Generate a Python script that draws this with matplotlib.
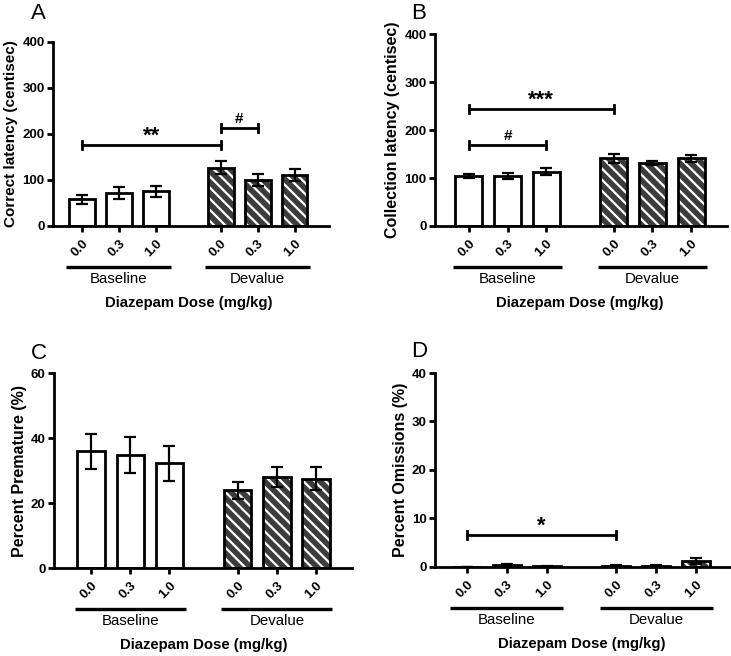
import numpy as np
import matplotlib
matplotlib.use("Agg")
import matplotlib.pyplot as plt
from matplotlib.transforms import ScaledTranslation

plt.rcParams['font.family'] = ['Liberation Sans', 'DejaVu Sans']
plt.rcParams['hatch.linewidth'] = 1.6

# data
doses = ["0.0", "0.3", "1.0", "0.0", "0.3", "1.0"]
groups = ["Baseline", "Devalue"]

correct_lat = [58, 71, 75, 127, 100, 111]
correct_err = [10, 13, 13, 14, 13, 13]
collect_lat = [104, 104, 113, 141, 131, 141]
collect_err = [4, 7, 7, 9, 4, 8]
premature = [35.9, 34.7, 32.3, 23.9, 28.1, 27.5]
premature_err = [5.3, 5.6, 5.4, 2.6, 3.1, 3.6]
omissions = [0.0, 0.4, 0.15, 0.3, 0.2, 1.25]
omissions_err = [0.0, 0.3, 0.1, 0.2, 0.15, 0.6]

pos = np.array([0, 1, 2, 3.75, 4.75, 5.75])

fig = plt.figure(figsize=(7.31, 6.56), dpi=100)

panels = [
    # letter, rect, values, errors, ylabel, yticks, xlim, label pos, ylabel size
    ("A", [0.0725, 0.6555, 0.3775, 0.2805], correct_lat, correct_err,
     "Correct latency (centisec)", [0, 100, 200, 300, 400], (-0.78, 6.68), (0.042, 0.995), 11),
    ("B", [0.595, 0.6555, 0.3995, 0.2925], collect_lat, collect_err,
     "Collection latency (centisec)", [0, 100, 200, 300, 400], (-0.88, 6.68), (0.562, 0.995), 11.5),
    ("C", [0.0739, 0.134, 0.4076, 0.2974], premature, premature_err,
     "Percent Premature (%)", [0, 20, 40, 60], (-0.95, 6.67), (0.042, 0.477), 11.5),
    ("D", [0.595, 0.1357, 0.4036, 0.2957], omissions, omissions_err,
     "Percent Omissions (%)", [0, 10, 20, 30, 40], (-0.80, 6.60), (0.562, 0.480), 11.5),
]

# significance brackets: (panel, bar i, bar j, y value, text)
brackets = [
    ("A", 0, 3, 176, "**"),
    ("A", 3, 4, 213, "#"),
    ("B", 0, 3, 244, "***"),
    ("B", 0, 2, 169, "#"),
    ("D", 0, 3, 6.6, "*"),
]

for letter, rect, vals, errs, ylab, yt, xl, lp, ylsize in panels:
    ax = fig.add_axes(rect)
    w = 0.7
    # baseline bars: white
    ax.bar(pos[:3], vals[:3], width=w, color="white", edgecolor="black", linewidth=2, zorder=2)
    # devalue bars: dark grey with white diagonal hatch
    ax.bar(pos[3:], vals[3:], width=w, color="#3c3c3c", edgecolor="white", hatch="\\\\\\",
           linewidth=0, zorder=2)
    ax.bar(pos[3:], vals[3:], width=w, color="none", edgecolor="black", linewidth=2, zorder=3)
    ax.errorbar(pos, vals, yerr=errs, fmt="none", ecolor="black", elinewidth=1.6,
                capsize=4.5, capthick=1.6, zorder=4)

    ax.set_xlim(*xl)
    ax.set_ylim(yt[0], yt[-1])
    ax.set_yticks(yt)
    ax.set_xticks(pos)
    ax.set_xticklabels(doses, rotation=45, ha="right", va="top", rotation_mode="anchor",
                       fontweight="bold", fontsize=9.5)
    for t in ax.get_yticklabels():
        t.set_fontweight("bold")
        t.set_fontsize(9.5)
    ax.tick_params(axis="both", direction="out", length=4, width=2, pad=2)
    ax.tick_params(axis="x", pad=4)
    for s in ["top", "right"]:
        ax.spines[s].set_visible(False)
    for s in ["left", "bottom"]:
        ax.spines[s].set_linewidth(2)
    ax.set_ylabel(ylab, fontweight="bold", fontsize=ylsize, labelpad=3)

    # group lines and labels under the axis
    tr = ax.get_xaxis_transform()
    for gi, g in enumerate(groups):
        c = pos[gi * 3 + 1]
        line_tr = tr + ScaledTranslation(0, -0.41, fig.dpi_scale_trans)
        ax.plot([c - 1.42, c + 1.42], [0, 0], color="black", lw=2.4, transform=line_tr,
                clip_on=False, solid_capstyle="butt")
        txt_tr = tr + ScaledTranslation(0, -0.53, fig.dpi_scale_trans)
        ax.text(c, 0, g, ha="center", va="center", fontsize=10.8, transform=txt_tr)
    xlab_tr = ax.transAxes + ScaledTranslation(0, -0.77, fig.dpi_scale_trans)
    ax.text((2.88 - xl[0]) / (xl[1] - xl[0]), 0, "Diazepam Dose (mg/kg)", ha="center",
            va="center", fontsize=10.7, fontweight="bold", transform=xlab_tr)

    fig.text(lp[0], lp[1], letter, fontsize=16, ha="left", va="top")

    yr = yt[-1] - yt[0]
    for pnl, i, j, yv, s in brackets:
        if pnl != letter:
            continue
        cap = yr * 0.02
        ax.plot([pos[i], pos[j]], [yv, yv], color="black", lw=2, zorder=5)
        ax.plot([pos[i], pos[i]], [yv - cap, yv + cap], color="black", lw=2, zorder=5)
        ax.plot([pos[j], pos[j]], [yv - cap, yv + cap], color="black", lw=2, zorder=5)
        if s == "#":
            ax.text((pos[i] + pos[j]) / 2, yv + yr * 0.012, s, ha="center", va="bottom",
                    fontsize=11, fontweight="bold")
        else:
            ax.text((pos[i] + pos[j]) / 2, yv - yr * 0.01, s, ha="center", va="bottom",
                    fontsize=16, fontweight="bold")

fig.savefig("out.png", dpi=100)
